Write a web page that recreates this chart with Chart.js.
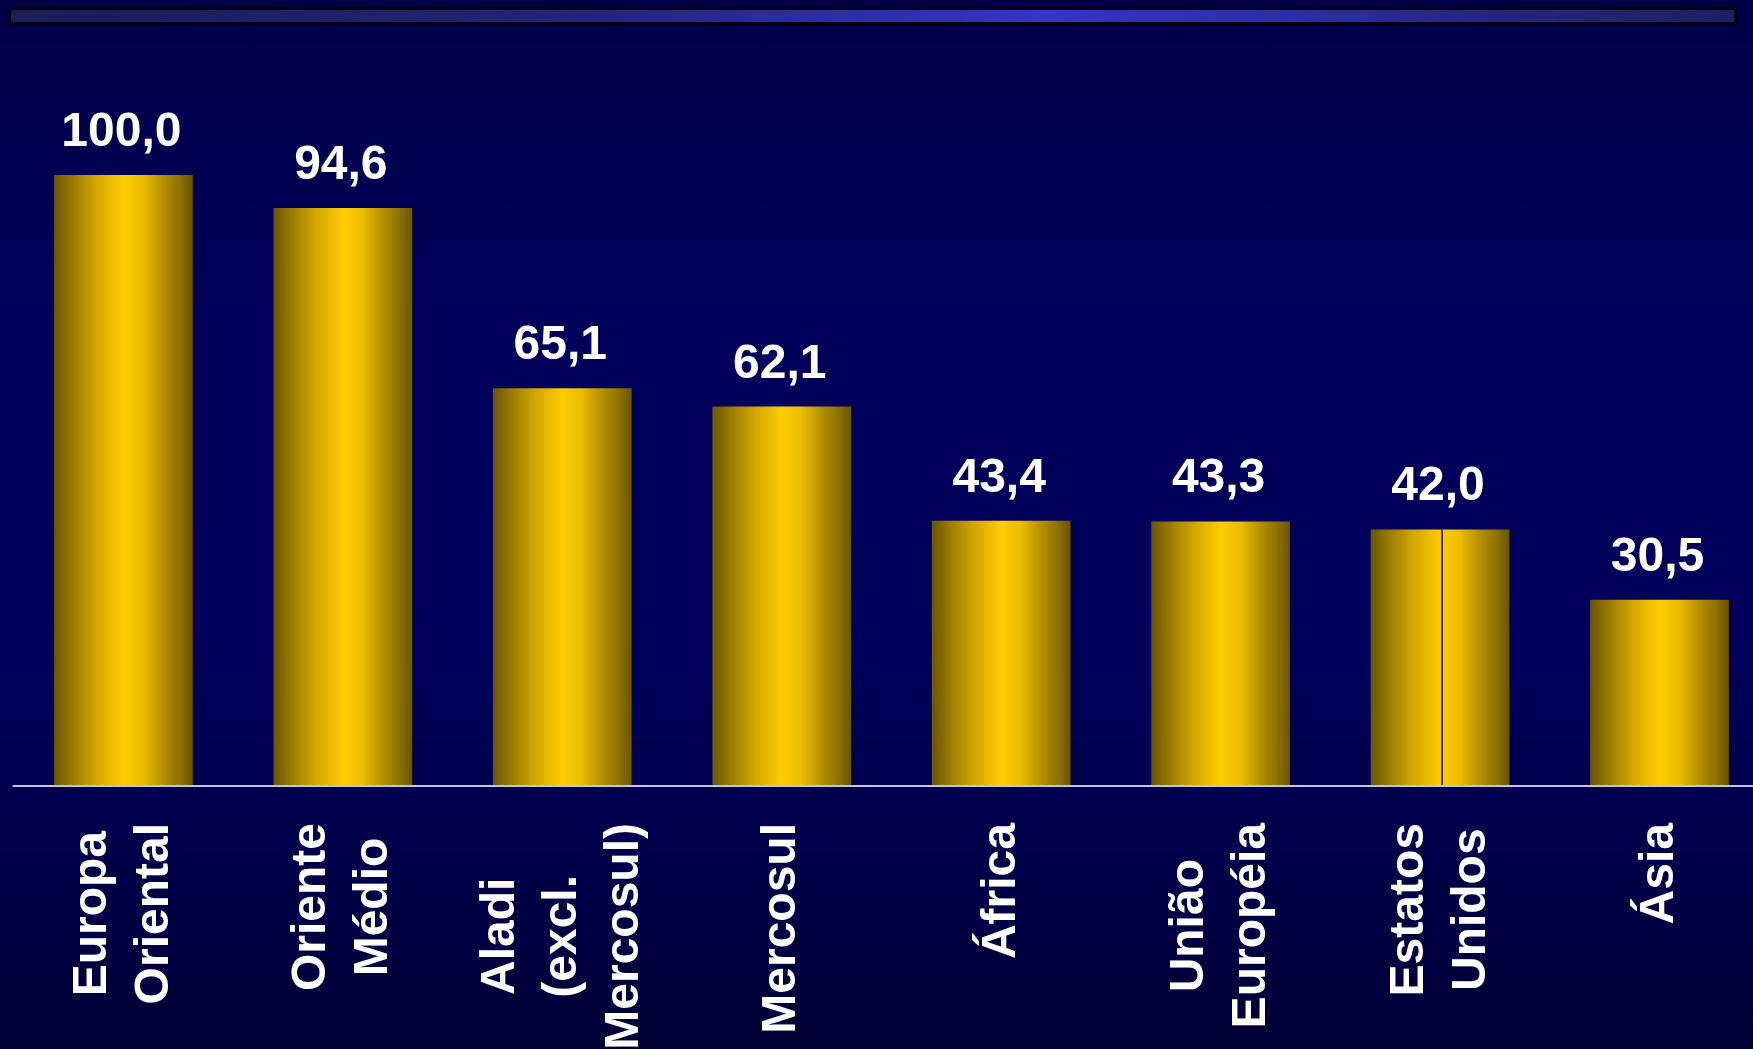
<!DOCTYPE html>
<html lang="pt">
<head>
<meta charset="utf-8">
<title>Índice por região</title>
<script src="https://cdn.jsdelivr.net/npm/chart.js@4.4.1/dist/chart.umd.min.js"></script>
<style>
  html, body {
    margin: 0;
    padding: 0;
    width: 1753px;
    height: 1049px;
    overflow: hidden;
  }
  body {
    position: relative;
    background: linear-gradient(to bottom, #000048 0%, #00005a 30%, #00005c 60%, #00004a 82%, #000036 100%);
    font-family: "Liberation Sans", Arial, sans-serif;
  }
  .faixa {
    position: absolute;
    left: 8px;
    top: 7px;
    width: 1729px;
    height: 18px;
    box-sizing: border-box;
    border: 3px solid #000010;
    background: linear-gradient(to right, #1c1c58 0%, #222274 30%, #3434c6 60%, #2c2ca4 75%, #24247a 88%, #1e1e64 100%);
  }
  #grafico {
    position: absolute;
    left: 0;
    top: 0;
  }
</style>
</head>
<body>
<div class="faixa"></div>
<canvas id="grafico" width="1770" height="1049"></canvas>

<script>
// dados do gráfico
const regioes = ['Europa Oriental', 'Oriente Médio', 'Aladi (excl. Mercosul)', 'Mercosul', 'África', 'União Européia', 'Estatos Unidos', 'Ásia'];
const linhasRegioes = [
  ['Europa', 'Oriental'],
  ['Oriente', 'Médio'],
  ['Aladi', '(excl.', 'Mercosul)'],
  ['Mercosul'],
  ['África'],
  ['União', 'Européia'],
  ['Estatos', 'Unidos'],
  ['Ásia']
];
const valores = [100.0, 94.6, 65.1, 62.1, 43.4, 43.3, 42.0, 30.5];

const FONTE = 'bold 48px "Liberation Sans", Arial, sans-serif';
const PCT_BARRA = 0.632;

// gradiente dourado horizontal de cada barra
function corBarra(context) {
  const chart = context.chart;
  const xScale = chart.scales.x;
  if (!xScale || !chart.chartArea) return '#f5c400';
  const cx = xScale.getPixelForValue(context.dataIndex);
  const meia = xScale.width / regioes.length * PCT_BARRA / 2;
  const g = chart.ctx.createLinearGradient(cx - meia, 0, cx + meia, 0);
  g.addColorStop(0, '#6b5500');
  g.addColorStop(0.14, '#9c7d00');
  g.addColorStop(0.3, '#d0a600');
  g.addColorStop(0.5, '#ffcc00');
  g.addColorStop(0.64, '#ecbd00');
  g.addColorStop(0.8, '#b08c00');
  g.addColorStop(0.92, '#8a6e00');
  g.addColorStop(1, '#6a5400');
  return g;
}

// linha base, valores sobre as barras e nomes girados
const rotulosPlugin = {
  id: 'rotulos',
  afterDatasetsDraw(chart) {
    const ctx = chart.ctx;
    const meta = chart.getDatasetMeta(0);
    const y0 = chart.scales.y.getPixelForValue(0);

    ctx.save();
    ctx.strokeStyle = '#c4c4e0';
    ctx.lineWidth = 2;
    ctx.beginPath();
    ctx.moveTo(chart.chartArea.left - 1, y0);
    ctx.lineTo(chart.width, y0);
    ctx.stroke();

    // emenda escura no meio da barra de Estados Unidos
    const eua = meta.data[6];
    ctx.strokeStyle = '#000058';
    ctx.lineWidth = 1.5;
    ctx.beginPath();
    ctx.moveTo(eua.x + 2, eua.y);
    ctx.lineTo(eua.x + 2, y0 - 1);
    ctx.stroke();

    ctx.fillStyle = '#ffffff';
    ctx.font = FONTE;

    meta.data.forEach((bar, i) => {
      const texto = valores[i].toFixed(1).replace('.', ',');
      ctx.textAlign = 'center';
      ctx.textBaseline = 'alphabetic';
      ctx.fillText(texto, bar.x - 2, bar.y - 29);

      const linhas = linhasRegioes[i];
      const larg = Math.max(...linhas.map(l => ctx.measureText(l).width));
      const centroY = y0 + 37 + larg / 2;
      linhas.forEach((linha, j) => {
        const bx = bar.x + 13.5 + (j - (linhas.length - 1) / 2) * 62;
        ctx.save();
        ctx.translate(bx, centroY);
        ctx.rotate(-Math.PI / 2);
        ctx.fillText(linha, 0, 0);
        ctx.restore();
      });
    });
    ctx.restore();
  }
};

new Chart(document.getElementById('grafico'), {
  type: 'bar',
  data: {
    labels: regioes,
    datasets: [{
      data: valores,
      backgroundColor: corBarra,
      borderWidth: 0,
      categoryPercentage: 1,
      barPercentage: PCT_BARRA
    }]
  },
  options: {
    responsive: false,
    animation: false,
    devicePixelRatio: 1,
    layout: {
      padding: { top: 175, bottom: 263, left: 13.7, right: 0.8 }
    },
    plugins: {
      legend: { display: false },
      tooltip: { enabled: false }
    },
    scales: {
      x: { display: false },
      y: { display: false, min: 0, max: 100 }
    }
  },
  plugins: [rotulosPlugin]
});
</script>
</body>
</html>
